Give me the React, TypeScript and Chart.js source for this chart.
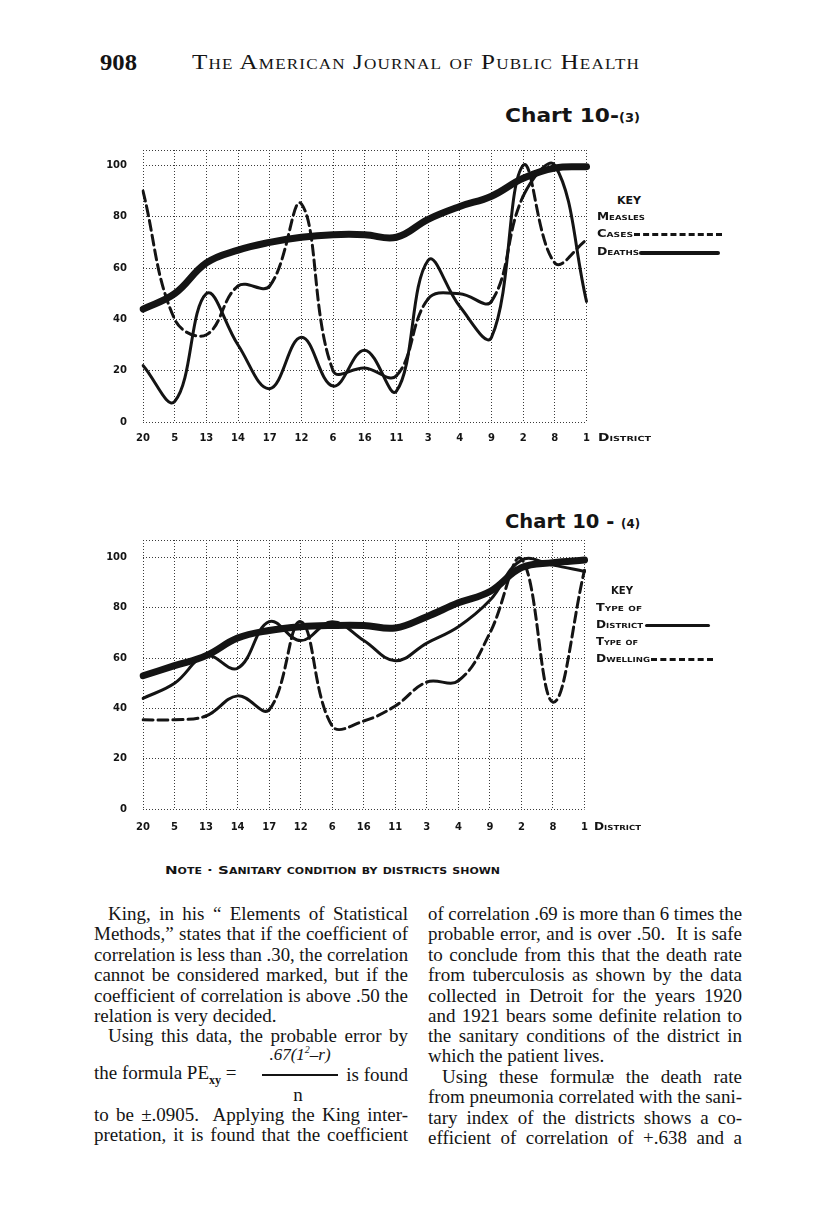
import React, { useEffect, useLayoutEffect, useRef } from 'react';
import { Chart, registerables } from 'chart.js';

Chart.register(...registerables);

// ---------- data ----------
const DISTRICTS = ['20', '5', '13', '14', '17', '12', '6', '16', '11', '3', '4', '9', '2', '8', '1'];
const Y_TICKS = [0, 20, 40, 60, 80, 100];

// Chart 10-(3)
const SANITARY_3 = [44, 50, 62, 67, 70, 72, 73, 73, 72, 79, 84, 88, 95, 99, 99.5];
const MEASLES_CASES = [90, 40, 34, 53, 53, 85, 20, 21, 18, 48, 50, 47, 88, 100, 47];
const MEASLES_DEATHS = [22, 8, 50, 30, 13, 33, 14, 28, 12, 63, 45, 33, 100, 62, 71];
const CASES_DASHED_SEGMENTS = [0, 1, 2, 4, 5, 8, 11];
const DEATHS_DASHED_SEGMENTS = [12, 13];

// Chart 10-(4)
const SANITARY_4 = [53, 57, 61, 68, 71, 72.5, 73, 73, 72, 76.5, 82, 86.5, 96, 98, 99];
const DISTRICT_TYPE = [44, 50, 61, 56, 74.5, 67, 74.5, 67, 59, 66, 72.5, 83, 99, 97, 94.5];
const DWELLING_TYPE = [35.5, 35.5, 37, 45, 39.5, 74.5, 33, 35, 41, 50.5, 51, 70, 99.5, 42.5, 95];
const DWELLING_SOLID_SEGMENTS = [2, 3, 9];

// text
const LEFT_LINES = [
  { t: 'King, in his \u201c Elements of Statistical', cy: 913, indent: 14, just: true },
  { t: 'Methods,\u201d states that if the coefficient of', cy: 933, just: true },
  { t: 'correlation is less than .30, the correlation', cy: 954, just: true },
  { t: 'cannot be considered marked, but if the', cy: 974, just: true },
  { t: 'coefficient of correlation is above .50 the', cy: 995, just: true },
  { t: 'relation is very decided.', cy: 1015, just: false },
  { t: 'Using this data, the probable error by', cy: 1035, indent: 14, just: true },
  { t: 'to be \u00b1.0905.  Applying the King inter-', cy: 1114, just: true },
  { t: 'pretation, it is found that the coefficient', cy: 1134, just: true },
];
const RIGHT_LINES = [
  { t: 'of correlation .69 is more than 6 times the', cy: 913, just: true },
  { t: 'probable error, and is over .50.  It is safe', cy: 933, just: true },
  { t: 'to conclude from this that the death rate', cy: 954, just: true },
  { t: 'from tuberculosis as shown by the data', cy: 974, just: true },
  { t: 'collected in Detroit for the years 1920', cy: 995, just: true },
  { t: 'and 1921 bears some definite relation to', cy: 1015, just: true },
  { t: 'the sanitary conditions of the district in', cy: 1035, just: true },
  { t: 'which the patient lives.', cy: 1055, just: false },
  { t: 'Using these formul\u00e6 the death rate', cy: 1076, indent: 14, just: true },
  { t: 'from pneumonia correlated with the sani-', cy: 1096, just: true },
  { t: 'tary index of the districts shows a co-', cy: 1117, just: true },
  { t: 'efficient of correlation of +.638 and a', cy: 1137, just: true },
];

const SERIF = '"Liberation Serif", "DejaVu Serif", serif';
const SANS = '"DejaVu Sans", "Liberation Sans", sans-serif';
const INK = '#141414';

// ---------- text helper ----------
type LineProps = {
  x: number;
  cy: number;
  w?: number;
  mode?: 'justify' | 'fit' | 'none';
  anchor?: 'left' | 'center' | 'right';
  style?: React.CSSProperties;
  children: React.ReactNode;
};

function Line({ x, cy, w, mode = 'none', anchor = 'left', style, children }: LineProps) {
  const ref = useRef<HTMLSpanElement>(null);
  useLayoutEffect(() => {
    const el = ref.current;
    if (!el) return;
    el.style.wordSpacing = '0px';
    el.style.transform = '';
    const r = el.getBoundingClientRect();
    const nat = r.width;
    el.style.top = cy - r.height / 2 + 'px';
    let left = x;
    if (anchor === 'center') left = x - nat / 2;
    if (anchor === 'right') left = x - nat;
    el.style.left = left + 'px';
    if (!w) return;
    if (mode === 'fit' || nat > w) {
      el.style.transform = `scaleX(${w / nat})`;
    } else if (mode === 'justify') {
      const txt = el.textContent || '';
      const n = (txt.match(/ /g) || []).length;
      if (n) el.style.wordSpacing = `${(w - nat) / n}px`;
    }
  });
  return (
    <span
      ref={ref}
      style={{
        position: 'absolute',
        left: x,
        top: cy,
        whiteSpace: 'pre',
        transformOrigin: '0 50%',
        lineHeight: 1,
        color: INK,
        ...style,
      }}
    >
      {children}
    </span>
  );
}

// ---------- chart ----------
type ChartProps = {
  left: number;
  top: number;
  width: number;
  height: number;
  yMax: number;
  padTop: number;
  padRight: number;
  axisH: number;
  yAxisW: number;
  labelPad: number;
  datasets: any[];
};

function LineChart({ left, top, width, height, yMax, padTop, padRight, axisH, yAxisW, labelPad, datasets }: ChartProps) {
  const ref = useRef<HTMLCanvasElement>(null);
  useEffect(() => {
    const tickFont = { family: SANS, weight: 'bold' as const, size: 10 };
    const chart = new Chart(ref.current as HTMLCanvasElement, {
      type: 'line',
      data: { labels: DISTRICTS, datasets },
      options: {
        animation: false,
        responsive: false,
        devicePixelRatio: 1,
        layout: { padding: { top: padTop, right: padRight, left: 0, bottom: 0 } },
        plugins: { legend: { display: false }, tooltip: { enabled: false } },
        elements: {
          point: { radius: 0, hoverRadius: 0 },
          line: { tension: 0.4, borderCapStyle: 'round', borderJoinStyle: 'round', fill: false },
        },
        scales: {
          x: {
            type: 'category',
            offset: false,
            afterFit: (s: any) => {
              s.height = axisH;
            },
            ticks: { font: tickFont, color: INK, padding: labelPad, maxRotation: 0, autoSkip: false },
            grid: { color: '#3a3a3a', lineWidth: 1, drawTicks: false, offset: false },
            border: { display: false, dash: [1, 2] },
          },
          y: {
            type: 'linear',
            min: 0,
            max: yMax,
            afterBuildTicks: (axis: any) => {
              axis.ticks = [...Y_TICKS, yMax].map((v) => ({ value: v }));
            },
            afterFit: (s: any) => {
              s.width = yAxisW;
            },
            ticks: {
              font: tickFont,
              color: INK,
              padding: 16,
              callback: (v: any) => (Y_TICKS.includes(Number(v)) ? String(v) : ''),
            },
            grid: { color: '#3a3a3a', lineWidth: 1, drawTicks: false },
            border: { display: false, dash: [1, 2] },
          },
        },
      } as any,
    });
    return () => chart.destroy();
  }, []);
  return (
    <canvas
      ref={ref}
      width={width}
      height={height}
      style={{ position: 'absolute', left, top, width, height, display: 'block' }}
    />
  );
}

const dashIf = (list: number[], dash: number[]) => (ctx: any) =>
  list.includes(ctx.p0DataIndex) ? dash : [];
const solidIf = (list: number[], dash: number[]) => (ctx: any) =>
  list.includes(ctx.p0DataIndex) ? [] : dash;

const DASH = [10, 5];

const keyStyle: React.CSSProperties = {
  fontFamily: SANS,
  fontWeight: 'bold',
  fontSize: 10,
  fontVariant: 'small-caps',
};

export default function App() {
  const chart3Sets = [
    { label: 'Sanitary condition', data: SANITARY_3, borderColor: INK, borderWidth: 7 },
    {
      label: 'Measles cases',
      data: MEASLES_CASES,
      borderColor: INK,
      borderWidth: 3,
      segment: { borderDash: dashIf(CASES_DASHED_SEGMENTS, DASH) },
    },
    {
      label: 'Measles deaths',
      data: MEASLES_DEATHS,
      borderColor: INK,
      borderWidth: 3,
      segment: { borderDash: dashIf(DEATHS_DASHED_SEGMENTS, DASH) },
    },
  ];
  const chart4Sets = [
    { label: 'Sanitary condition', data: SANITARY_4, borderColor: INK, borderWidth: 7 },
    { label: 'Type of district', data: DISTRICT_TYPE, borderColor: INK, borderWidth: 3 },
    {
      label: 'Type of dwelling',
      data: DWELLING_TYPE,
      borderColor: INK,
      borderWidth: 3,
      segment: { borderDash: solidIf(DWELLING_SOLID_SEGMENTS, DASH) },
    },
  ];

  const bodyStyle: React.CSSProperties = { fontFamily: SERIF, fontSize: 19 };
  const colW = 314;

  return (
    <div
      style={{
        position: 'absolute',
        left: 0,
        top: 0,
        width: 816,
        height: 1231,
        background: '#fff',
        overflow: 'hidden',
      }}
    >
      {/* running head */}
      <Line x={100} cy={62} w={37} mode="fit" style={{ fontFamily: SERIF, fontWeight: 'bold', fontSize: 24 }}>
        908
      </Line>
      <Line x={192} cy={62} w={448} mode="fit" style={{ fontFamily: SERIF, fontSize: 22, fontVariant: 'small-caps', letterSpacing: 1 }}>
        The American Journal of Public Health
      </Line>

      {/* chart 10-(3) */}
      <Line x={505} cy={115} w={135} mode="fit" style={{ fontFamily: SANS, fontWeight: 'bold', fontSize: 20 }}>
        Chart 10-<span style={{ fontSize: 12 }}>(3)</span>
      </Line>
      <LineChart
        left={90}
        top={128}
        width={510}
        height={322}
        yMax={106}
        padTop={10}
        padRight={13}
        axisH={28}
        yAxisW={53}
        labelPad={10}
        datasets={chart3Sets}
      />
      <Line x={598} cy={438} w={53} mode="fit" style={keyStyle}>
        District
      </Line>
      <Line x={617} cy={201} w={24} mode="fit" style={keyStyle}>
        KEY
      </Line>
      <Line x={597} cy={217} w={48} mode="fit" style={keyStyle}>
        Measles
      </Line>
      <Line x={597} cy={234} w={36} mode="fit" style={keyStyle}>
        Cases
      </Line>
      <div style={{ position: 'absolute', left: 634, top: 233, width: 88, height: 0, borderTop: `3px dashed ${INK}` }} />
      <Line x={597} cy={252} w={42} mode="fit" style={keyStyle}>
        Deaths
      </Line>
      <div style={{ position: 'absolute', left: 639, top: 251, width: 81, height: 4, background: INK, borderRadius: 2 }} />

      {/* chart 10-(4) */}
      <Line x={505} cy={521} w={135} mode="fit" style={{ fontFamily: SANS, fontWeight: 'bold', fontSize: 20 }}>
        Chart 10 - <span style={{ fontSize: 12 }}>(4)</span>
      </Line>
      <LineChart
        left={90}
        top={518}
        width={510}
        height={322}
        yMax={107}
        padTop={9}
        padRight={14}
        axisH={31}
        yAxisW={53}
        labelPad={12}
        datasets={chart4Sets}
      />
      <Line x={594} cy={827} w={47} mode="fit" style={keyStyle}>
        District
      </Line>
      <Line x={611} cy={591} w={22} mode="fit" style={keyStyle}>
        KEY
      </Line>
      <Line x={596} cy={608} w={46} mode="fit" style={keyStyle}>
        Type of
      </Line>
      <Line x={596} cy={625} w={47} mode="fit" style={keyStyle}>
        District
      </Line>
      <div style={{ position: 'absolute', left: 645, top: 624, width: 65, height: 3, background: INK, borderRadius: 2 }} />
      <Line x={596} cy={642} w={42} mode="fit" style={keyStyle}>
        Type of
      </Line>
      <Line x={596} cy={659} w={54} mode="fit" style={keyStyle}>
        Dwelling
      </Line>
      <div style={{ position: 'absolute', left: 651, top: 658, width: 62, height: 0, borderTop: `3px dashed ${INK}` }} />

      <Line x={165} cy={870} w={335} mode="fit" style={{ ...keyStyle, fontSize: 11 }}>
        Note · Sanitary condition by districts shown
      </Line>

      {/* body text */}
      {LEFT_LINES.map((l, i) => (
        <Line
          key={'l' + i}
          x={94 + (l.indent || 0)}
          cy={l.cy}
          w={l.just ? colW - (l.indent || 0) : undefined}
          mode={l.just ? 'justify' : 'none'}
          style={bodyStyle}
        >
          {l.t}
        </Line>
      ))}
      <Line x={300} cy={1054} anchor="center" style={{ ...bodyStyle, fontSize: 17, fontStyle: 'italic' }}>
        .67(1<sup style={{ fontSize: 10 }}>2</sup>–r)
      </Line>
      <Line x={94} cy={1074} style={bodyStyle}>
        the formula PE<sub style={{ fontSize: 12, fontWeight: 'bold' }}>xy</sub> =
      </Line>
      <div style={{ position: 'absolute', left: 262, top: 1074, width: 76, height: 2, background: INK }} />
      <Line x={408} cy={1074} anchor="right" style={bodyStyle}>
        is found
      </Line>
      <Line x={298} cy={1094} anchor="center" style={bodyStyle}>
        n
      </Line>
      {RIGHT_LINES.map((l, i) => (
        <Line
          key={'r' + i}
          x={428 + (l.indent || 0)}
          cy={l.cy}
          w={l.just ? colW - (l.indent || 0) : undefined}
          mode={l.just ? 'justify' : 'none'}
          style={bodyStyle}
        >
          {l.t}
        </Line>
      ))}
    </div>
  );
}
